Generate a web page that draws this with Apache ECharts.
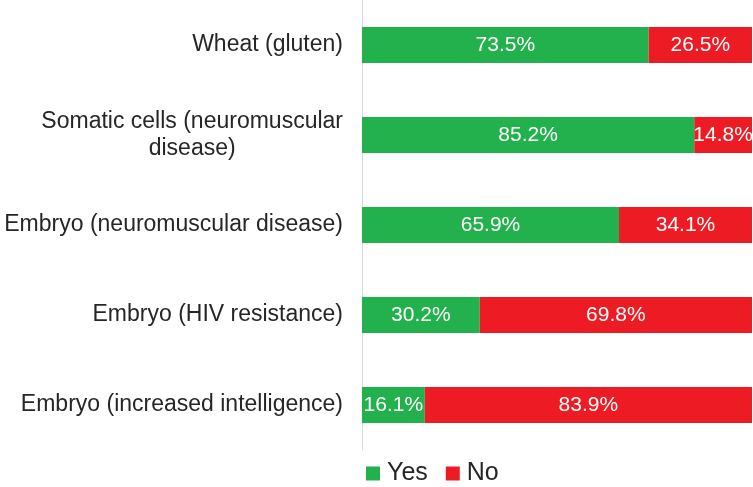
<!DOCTYPE html>
<html>
<head>
<meta charset="utf-8">
<script src="https://cdn.jsdelivr.net/npm/echarts@6/dist/echarts.min.js"></script>
<style>html,body{margin:0;padding:0;background:#fff;}#c{width:753px;height:487px;}</style>
</head>
<body>
<div id="c"></div>
<script>
const categories = ['Wheat (gluten)', 'Somatic cells (neuromuscular\ndisease)', 'Embryo (neuromuscular disease)', 'Embryo (HIV resistance)', 'Embryo (increased intelligence)'];
const yesValues = [73.5, 85.2, 65.9, 30.2, 16.1];
const noValues = [26.5, 14.8, 34.1, 69.8, 83.9];
const seriesNames = ['Yes', 'No'];

const chart = echarts.init(document.getElementById('c'));
const font = "'Liberation Sans', Arial, sans-serif";
const lbl = {
  show: true, position: 'inside', color: '#fff', fontSize: 21, fontFamily: font,
  formatter: p => p.value.toFixed(1) + '%'
};
chart.setOption({
  animation: false,
  grid: { left: 362, right: 1, top: 0, bottom: 37, containLabel: false },
  legend: {
    left: 361, top: 456, itemWidth: 14, itemHeight: 14, itemGap: 18,
    icon: 'rect',
    textStyle: { fontSize: 25, color: '#262626', fontFamily: font, padding: [0, 0, 0, 2] },
    data: seriesNames
  },
  xAxis: { type: 'value', min: 0, max: 100, show: false },
  yAxis: {
    type: 'category', inverse: true, data: categories,
    axisLine: { show: true, lineStyle: { color: '#d9d9d9', width: 1 } },
    axisTick: { show: false },
    axisLabel: {
      margin: 19, fontSize: 23, color: '#262626', fontFamily: font,
      formatter: v => {
        const parts = v.split('\n');
        if (parts.length === 1) return v;
        return '{a|' + parts[0] + '}\n{b|' + parts[1] + '}';
      },
      rich: {
        a: { fontSize: 23, color: '#262626', fontFamily: font, lineHeight: 27 },
        b: { fontSize: 23, color: '#262626', fontFamily: font, lineHeight: 27, align: 'center' }
      }
    }
  },
  series: [
    { name: seriesNames[0], type: 'bar', stack: 't', data: yesValues, barWidth: 36, itemStyle: { color: '#22B14C' }, label: lbl },
    { name: seriesNames[1], type: 'bar', stack: 't', data: noValues, barWidth: 36, itemStyle: { color: '#ED1C24' }, label: lbl }
  ]
});
</script>
</body>
</html>
